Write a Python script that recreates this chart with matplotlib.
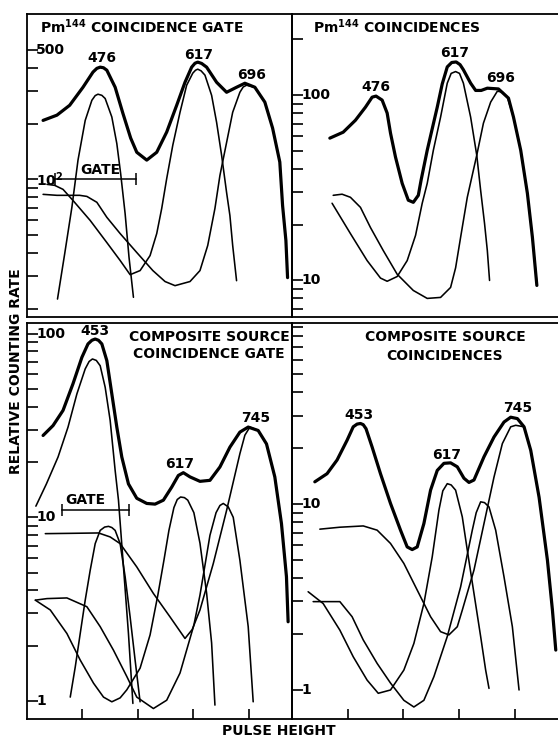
import matplotlib
matplotlib.use("Agg")
import matplotlib.pyplot as plt
from matplotlib.ticker import FixedLocator, NullLocator
from matplotlib.transforms import blended_transform_factory

plt.rcParams['font.family'] = ['DejaVu Sans']
plt.rcParams['mathtext.default'] = 'bf'

# ---- Pm144 coincidence gate (top left) ----
tl_sum_x = [0.29, 0.54, 0.77, 1.01, 1.19, 1.26, 1.32, 1.38, 1.44, 1.59, 1.73, 1.87, 1.98, 2.16, 2.34,
            2.52, 2.70, 2.85, 2.97, 3.03, 3.08, 3.15, 3.24, 3.42, 3.60, 3.78, 3.93, 4.11, 4.29, 4.43,
            4.56, 4.61, 4.67, 4.70]
tl_sum_y = [208, 222, 251, 314, 379, 397, 403, 400, 388, 314, 227, 167, 140, 127, 140,
            180, 251, 334, 403, 423, 429, 422, 403, 334, 295, 314, 330, 314, 261, 189,
            124, 72.3, 46.8, 29.5]
tl_476_x = [0.55, 0.68, 0.81, 0.92, 1.05, 1.17, 1.23, 1.28, 1.35, 1.41, 1.53, 1.62, 1.69, 1.77, 1.84, 1.92]
tl_476_y = [22.6, 39.7, 70.8, 127, 208, 267, 283, 288, 284, 273, 217, 156, 107, 65.3, 38, 23.1]
tl_617_x = [0.36, 0.50, 0.65, 0.83, 1.14, 1.44, 1.68, 1.86, 2.04, 2.22, 2.34, 2.43, 2.52, 2.63,
            2.76, 2.88, 2.99, 3.04, 3.08, 3.14, 3.21, 3.33, 3.42, 3.51, 3.60, 3.66, 3.71, 3.78]
tl_617_y = [94, 92.8, 88.3, 76.9, 60, 45.6, 36.5, 30.6, 32.2, 38.8, 51, 69.7, 101, 153,
            230, 322, 374, 388, 393, 385, 365, 284, 203, 135, 85, 63.8, 44, 28.4]
tl_696_x = [0.29, 0.54, 0.95, 1.08, 1.26, 1.44, 1.68, 1.98, 2.27, 2.49, 2.67, 2.94, 3.12, 3.26,
            3.39, 3.48, 3.60, 3.71, 3.84, 3.90, 3.96, 4.11, 4.29, 4.43, 4.56, 4.61, 4.67, 4.70]
tl_696_y = [83, 82, 82, 80.9, 75.2, 62.4, 51, 40.3, 32.2, 28.1, 26.7, 28.1, 32.2, 44,
            69.7, 105, 158, 230, 295, 315, 322, 314, 261, 189, 124, 72.3, 46.8, 29.5]

# ---- Pm144 coincidences (top right) ----
tr_sum_x = [0.68, 0.92, 1.14, 1.32, 1.44, 1.51, 1.62, 1.71, 1.77, 1.86, 1.98, 2.09, 2.18, 2.27, 2.32,
            2.43, 2.61, 2.70, 2.79, 2.87, 2.95, 3.02, 3.08, 3.21, 3.30, 3.40, 3.51, 3.71, 3.89, 3.98,
            4.11, 4.23, 4.32, 4.40]
tr_sum_y = [58.6, 63.1, 73.2, 86.1, 97.5, 98.8, 94, 80, 62.4, 46.3, 33.4, 27.1, 26.4, 28.8, 34.8,
            50.4, 86.1, 115, 142, 150, 151, 146, 137, 116, 106, 106, 109, 108, 96.3, 76.1,
            50.4, 29.5, 17.1, 9.4]
tr_617_x = [0.72, 1.05, 1.35, 1.59, 1.71, 1.89, 2.07, 2.22, 2.34, 2.43, 2.54, 2.67, 2.79, 2.86,
            2.94, 3.01, 3.08, 3.21, 3.32, 3.39, 3.46, 3.51, 3.55]
tr_617_y = [26.1, 17.9, 12.8, 10.3, 9.9, 10.5, 12.8, 17.5, 26.1, 33.4, 50.4, 76.1, 116, 131,
            134, 131, 116, 76.1, 47.4, 30.6, 20.3, 14.5, 10]
tr_696_x = [0.74, 0.90, 1.05, 1.23, 1.41, 1.64, 1.89, 2.18, 2.43, 2.67, 2.85, 2.94, 3.03, 3.15,
            3.32, 3.44, 3.57, 3.69, 3.78, 3.87, 3.98, 4.11, 4.23, 4.32, 4.40]
tr_696_y = [28.8, 29.2, 28.1, 24.8, 19.3, 14.5, 10.8, 8.83, 8.0, 8.1, 9.17, 11.7, 17.1, 28.1,
            47.4, 70.6, 91.7, 105, 104, 97.5, 76.1, 50.4, 29.5, 17.1, 9.64]

# ---- composite source, coincidence gate (bottom left) ----
bl_sum_x = [0.29, 0.47, 0.65, 0.83, 0.99, 1.10, 1.17, 1.23, 1.29, 1.35, 1.44, 1.53, 1.62, 1.71, 1.83,
            1.98, 2.16, 2.31, 2.46, 2.61, 2.73, 2.82, 2.94, 3.12, 3.30, 3.48, 3.66, 3.84, 3.99, 4.17,
            4.32, 4.47, 4.59, 4.68, 4.71]
bl_sum_y = [27.9, 31.6, 38.2, 53.4, 74.3, 87.9, 92, 93.5, 92, 87.9, 71.3, 47.0, 31.0, 21.3, 15.2,
            12.7, 11.9, 11.8, 12.4, 14.6, 16.9, 17.5, 16.6, 15.7, 15.9, 18.8, 24.1, 29.1, 31.0, 29.7,
            25.1, 16.6, 9.24, 4.75, 2.7]
bl_453_x = [0.16, 0.35, 0.56, 0.74, 0.90, 1.05, 1.12, 1.18, 1.25, 1.32, 1.41, 1.50, 1.59, 1.65,
            1.74, 1.83, 1.91]
bl_453_y = [11.5, 15.2, 21.3, 31.0, 47.0, 64.3, 70.5, 72.8, 71.5, 66.9, 51.1, 33.7, 18.0, 12.4,
            5.37, 2.33, 0.97]
bl_gate_x = [0.78, 0.87, 0.96, 1.05, 1.14, 1.23, 1.32, 1.40, 1.47, 1.53, 1.59, 1.68, 1.77, 1.86, 1.95, 2.04]
bl_gate_y = [1.05, 1.53, 2.33, 3.54, 5.15, 7.19, 8.49, 8.85, 8.93, 8.8, 8.49, 7.19, 4.75, 2.87, 1.67, 0.99]
bl_745_x = [0.33, 0.77, 1.29, 1.50, 1.68, 1.98, 2.28, 2.58, 2.85, 2.98, 3.12, 3.36, 3.60, 3.84,
            3.93, 4.02, 4.17, 4.32, 4.47, 4.59, 4.68, 4.71]
bl_745_y = [8.15, 8.18, 8.22, 7.82, 7.19, 5.37, 3.85, 2.87, 2.19, 2.45, 3.13, 5.6, 10.9, 22.2,
            28, 31.0, 29.7, 25.1, 16.6, 9.24, 4.75, 2.7]
bl_617_x = [0.15, 0.42, 0.72, 0.96, 1.20, 1.38, 1.53, 1.68, 1.80, 2.04, 2.22, 2.36, 2.47, 2.56,
            2.65, 2.71, 2.77, 2.84, 2.90, 3.01, 3.12, 3.24, 3.33, 3.39]
bl_617_y = [3.54, 3.13, 2.33, 1.67, 1.25, 1.05, 0.99, 1.04, 1.15, 1.51, 2.29, 3.77, 5.84, 8.49,
            11.3, 12.5, 12.9, 12.8, 12.4, 10.6, 7.23, 3.86, 2.07, 0.95]
bl_696_x = [0.15, 0.36, 0.72, 1.08, 1.32, 1.56, 1.80, 1.98, 2.28, 2.52, 2.76, 3.01, 3.12, 3.21,
            3.30, 3.41, 3.48, 3.54, 3.63, 3.72, 3.84, 3.99, 4.08]
bl_696_y = [3.54, 3.61, 3.64, 3.26, 2.54, 1.89, 1.36, 1.05, 0.91, 1.01, 1.42, 2.59, 3.77, 5.48,
            7.98, 10.6, 11.6, 11.9, 11.4, 10.0, 5.84, 2.54, 0.99]

# ---- composite source, coincidences (bottom right) ----
br_sum_x = [0.41, 0.63, 0.81, 0.99, 1.10, 1.17, 1.23, 1.28, 1.33, 1.44, 1.59, 1.77, 1.95, 2.07, 2.16,
            2.25, 2.37, 2.49, 2.61, 2.73, 2.85, 2.97, 3.09, 3.18, 3.27, 3.45, 3.63, 3.81, 3.93, 4.05,
            4.17, 4.29, 4.44, 4.59, 4.68, 4.74]
br_sum_y = [13.2, 14.6, 17.3, 22.1, 26.1, 27.0, 27.2, 26.8, 25.5, 20.3, 14.6, 10.1, 7.25, 5.89, 5.7,
            5.89, 7.87, 11.9, 15.2, 16.6, 16.7, 15.9, 13.8, 13.1, 13.5, 18.0, 23.0, 27.7, 29.4, 28.9,
            26.1, 19.5, 10.9, 5.0, 2.69, 1.64]
br_745_x = [0.50, 0.86, 1.28, 1.53, 1.77, 2.01, 2.25, 2.49, 2.67, 2.82, 2.97, 3.06, 3.27, 3.45,
            3.63, 3.78, 3.93, 4.02, 4.17, 4.29, 4.44, 4.59, 4.68, 4.74]
br_745_y = [7.34, 7.52, 7.64, 7.25, 6.15, 4.8, 3.45, 2.48, 2.06, 1.98, 2.19, 2.69, 4.42, 7.87,
            14.0, 21.2, 26.1, 26.6, 26.1, 19.5, 10.9, 5.0, 2.69, 1.64]
br_617_x = [0.29, 0.56, 0.86, 1.10, 1.35, 1.55, 1.77, 2.01, 2.19, 2.37, 2.52, 2.64, 2.71, 2.79,
            2.86, 2.94, 3.06, 3.15, 3.27, 3.39, 3.48, 3.54]
br_617_y = [3.38, 2.92, 2.1, 1.51, 1.13, 0.96, 1.0, 1.28, 1.78, 2.92, 5.21, 9.29, 11.8, 12.9,
            12.7, 11.9, 8.55, 5.66, 3.31, 1.94, 1.28, 1.02]
br_696_x = [0.38, 0.86, 1.08, 1.28, 1.53, 1.77, 2.01, 2.19, 2.37, 2.55, 2.79, 3.03, 3.24, 3.31,
            3.39, 3.46, 3.54, 3.66, 3.81, 3.96, 4.08]
br_696_y = [2.99, 2.99, 2.48, 1.86, 1.39, 1.09, 0.88, 0.81, 0.88, 1.18, 1.94, 3.59, 7.25, 9.0,
            10.3, 10.2, 9.67, 7.25, 4.06, 2.19, 1.0]

# peak energy labels (keV) and where they sit
tl_peaks = [("476", 1.35, 449), ("617", 3.10, 468), ("696", 4.05, 365)]
tr_peaks = [("476", 1.50, 111), ("617", 2.92, 168), ("696", 3.75, 124)]
bl_peaks = [("453", 1.23, 103), ("617", 2.76, 19.6), ("745", 4.125, 34.9)]
br_peaks = [("453", 1.21, 30.1), ("617", 2.78, 18.3), ("745", 4.05, 32.8)]

# gate window (pulse height range) and its level on the plot
tl_gate = (0.505, 1.975, 100)
bl_gate = (0.64, 1.84, 10.9)

# y tick marks and labelled decades
tl_ticks = [20, 30, 40, 50, 60, 70, 80, 90, 100, 200, 300, 400, 500]
tr_ticks = [7, 8, 9, 10, 20, 30, 40, 50, 60, 70, 80, 90, 100, 200]
bl_ticks = [1, 2, 3, 4, 5, 6, 7, 8, 9, 10, 20, 30, 40, 50, 60, 70, 80, 90, 100]
br_ticks = [1, 2, 3, 4, 5, 6, 7, 8, 9, 10, 20, 30, 40, 50, 60, 70, 80, 90]
tl_labels = [("500", 500), ("10$^{2}$", 100)]
tr_labels = [("100", 100), ("10", 10)]
bl_labels = [("100", 100), ("10", 10), ("1", 1)]
br_labels = [("10", 10), ("1", 1)]
x_ticks = [1, 2, 3, 4]

W, H = 558, 738
FS = 10
THIN = 1.15
THICK = 2.3

fig = plt.figure(figsize=(W / 100, H / 100), dpi=100)


def box(l, t, r, b):
    return [l / W, 1 - b / H, (r - l) / W, (b - t) / H]


def fig_text(px, py, s, **kw):
    fig.text(px / W, 1 - py / H, s, fontsize=FS, fontweight='bold', **kw)


def setup(ax, ylim, ticks, labels, bottom_ticks, right_side):
    ax.set_yscale('log')
    ax.set_xlim(0, 4.78)
    ax.set_ylim(*ylim)
    ax.yaxis.set_major_locator(FixedLocator(ticks))
    ax.yaxis.set_minor_locator(NullLocator())
    ax.tick_params(axis='y', which='both', direction='in', length=8, width=1.2,
                   labelleft=False)
    if bottom_ticks:
        ax.xaxis.set_major_locator(FixedLocator(x_ticks))
        ax.tick_params(axis='x', direction='in', length=7, width=1.2, labelbottom=False)
    else:
        ax.xaxis.set_major_locator(NullLocator())
    ax.xaxis.set_minor_locator(NullLocator())
    for sp in ax.spines.values():
        sp.set_linewidth(1.3)
    if right_side:
        ax.spines['right'].set_visible(False)
    ax.patch.set_alpha(0)
    tr = blended_transform_factory(ax.transAxes, ax.transData)
    pw = ax.get_position().width * W
    for s, v in labels:
        ax.text(9 / pw, v, s, transform=tr, ha='left', va='center', fontsize=FS,
                fontweight='bold')


def peaks(ax, items):
    for s, x, y in items:
        ax.text(x, y, s, ha='center', va='center', fontsize=FS, fontweight='bold')


def gate(ax, g, tx, ty):
    x0, x1, y = g
    ax.plot([x0, x1], [y, y], color='black', lw=1.1)
    ax.plot([x0, x1], [y, y], ls='none', marker='|', ms=8, mew=1.1, color='black')
    ax.text(tx, ty, "GATE", ha='center', va='center', fontsize=FS, fontweight='bold')


ax_tl = fig.add_axes(box(27, 14, 292, 316.5))
ax_tr = fig.add_axes(box(292, 14, 558, 316.5))
ax_bl = fig.add_axes(box(27, 322.5, 292, 719))
ax_br = fig.add_axes(box(292, 322.5, 558, 719))

setup(ax_tl, (18.2, 780), tl_ticks, tl_labels, False, False)
setup(ax_tr, (6.39, 274), tr_ticks, tr_labels, False, True)
setup(ax_bl, (0.798, 115), bl_ticks, bl_labels, True, False)
setup(ax_br, (0.698, 95.1), br_ticks, br_labels, True, True)

for ax, thin, total in [
    (ax_tl, [(tl_476_x, tl_476_y), (tl_617_x, tl_617_y), (tl_696_x, tl_696_y)], (tl_sum_x, tl_sum_y)),
    (ax_tr, [(tr_617_x, tr_617_y), (tr_696_x, tr_696_y)], (tr_sum_x, tr_sum_y)),
    (ax_bl, [(bl_453_x, bl_453_y), (bl_gate_x, bl_gate_y), (bl_745_x, bl_745_y),
             (bl_617_x, bl_617_y), (bl_696_x, bl_696_y)], (bl_sum_x, bl_sum_y)),
    (ax_br, [(br_745_x, br_745_y), (br_617_x, br_617_y), (br_696_x, br_696_y)], (br_sum_x, br_sum_y)),
]:
    for xs, ys in thin:
        ax.plot(xs, ys, color='black', lw=THIN, solid_joinstyle='round', solid_capstyle='round')
    ax.plot(total[0], total[1], color='black', lw=THICK, solid_joinstyle='round',
            solid_capstyle='round')

peaks(ax_tl, tl_peaks)
peaks(ax_tr, tr_peaks)
peaks(ax_bl, bl_peaks)
peaks(ax_br, br_peaks)

gate(ax_tl, tl_gate, 1.32, 112)
gate(ax_bl, bl_gate, 1.05, 12.4)

fig_text(40, 27, "Pm$^{144}$ COINCIDENCE GATE", ha='left', va='center')
fig_text(313, 27, "Pm$^{144}$ COINCIDENCES", ha='left', va='center')
fig_text(209, 337, "COMPOSITE SOURCE", ha='center', va='center')
fig_text(209, 354, "COINCIDENCE GATE", ha='center', va='center')
fig_text(445, 337, "COMPOSITE SOURCE", ha='center', va='center')
fig_text(445, 356, "COINCIDENCES", ha='center', va='center')
fig_text(16, 371, "RELATIVE COUNTING RATE", ha='center', va='center', rotation=90)
fig_text(279, 731, "PULSE HEIGHT", ha='center', va='center')

fig.savefig("out.png", dpi=100, facecolor='white')
